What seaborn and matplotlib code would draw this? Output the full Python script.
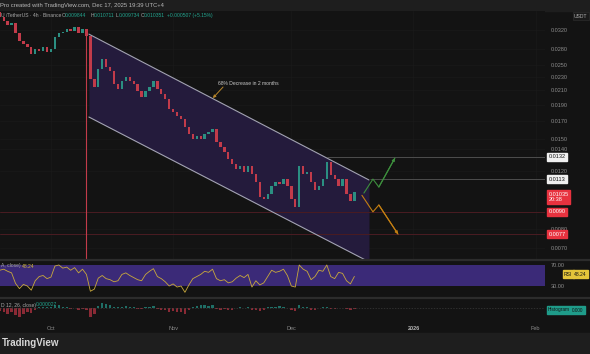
import numpy as np
import pandas as pd
import matplotlib
matplotlib.use("Agg")
import matplotlib.pyplot as plt
from matplotlib.patches import Rectangle
from matplotlib.lines import Line2D
from matplotlib.ticker import NullLocator, FixedLocator
import matplotlib.transforms as mtransforms
import seaborn as sns

# daily closes, 4h chart of ?/TetherUS (Binance), Sep 18 -> Dec 17 2025
start = "2025-09-18"
first_open = 0.0362
closes = [0.0350, 0.0341, 0.0331, 0.0336, 0.0313, 0.0296, 0.0290, 0.0284, 0.0271, 0.0280,
          0.0276, 0.0284, 0.0274, 0.0280, 0.0305, 0.0313, 0.0316, 0.0322, 0.0318, 0.0327,
          0.0313, 0.0322, 0.0307, 0.0227, 0.0215, 0.0244, 0.0261, 0.0247, 0.0240, 0.0220,
          0.0212, 0.0224, 0.0231, 0.0224, 0.0220, 0.0209, 0.0201, 0.0209, 0.0215, 0.0224,
          0.0212, 0.0205, 0.0198, 0.0184, 0.0181, 0.0176, 0.0172, 0.0163, 0.0155, 0.0150,
          0.0153, 0.0150, 0.0155, 0.0157, 0.0160, 0.0146, 0.0141, 0.0137, 0.0130, 0.0126,
          0.0121, 0.0124, 0.0119, 0.0124, 0.0117, 0.0111, 0.0100, 0.00984, 0.0102, 0.0108,
          0.0111, 0.0109, 0.0113, 0.0108, 0.00984, 0.0093, 0.0124, 0.0117, 0.0119, 0.0111,
          0.0105, 0.0108, 0.0113, 0.0127, 0.0116, 0.0113, 0.0108, 0.0113, 0.0102, 0.0097,
          0.010351]
crash_day = "2025-10-10"
crash_low = 0.0050

rsi = [60, 62, 58, 55, 35, 25, 33, 30, 22, 40, 48, 50, 44, 47, 68, 70, 64, 66, 60, 65,
       55, 62, 52, 20, 24, 45, 50, 44, 42, 38, 40, 52, 55, 50, 46, 42, 40, 52, 58, 63,
       48, 44, 38, 30, 34, 28, 30, 18, 32, 44, 48, 52, 58, 56, 62, 44, 40, 42, 36, 38,
       45, 50, 46, 52, 28, 40, 32, 36, 48, 60, 56, 58, 62, 50, 30, 28, 70, 62, 58, 42,
       48, 60, 58, 70, 48, 44, 56, 54, 40, 34, 48.24]

# MACD histogram, x1e-5
macd_hist = [-1.0, -1.5, -2.0, -1.2, -2.5, -3.0, -2.2, -1.5, -1.8, -0.5, 0.4, 0.6, 0.3, 0.5,
             1.2, 1.0, 0.6, 0.3, -0.3, 0.2, -0.5, -0.4, -0.8, -3.0, -2.0, 0.8, 2.0, 1.6, 1.0,
             0.4, 0.3, 0.6, 0.8, 0.5, 0.3, -0.3, -0.4, 0.3, 0.6, 0.8, -0.2, -0.5, -0.8, -1.2,
             -1.0, -1.5, -1.2, -2.0, -0.8, 0.4, 0.8, 1.0, 1.2, 0.9, 1.1, -0.3, -0.6, -0.4,
             -0.7, -0.5, 0.2, 0.4, 0.2, 0.3, -0.8, -0.5, -0.9, -0.6, 0.3, 0.6, 0.5, 0.7, 0.6,
             0.2, -0.7, -0.9, 1.0, 0.6, 0.3, -0.5, -0.6, 0.2, 0.3, 0.5, -0.2, -0.3, 0.1, 0.1,
             -0.4, -0.5, -0.3]

# drawings
channel_days = ["2025-10-10 15:00", "2025-12-20 17:00"]
channel_upper = [0.0311, 0.01124]
channel_lower = [0.01744, 0.00635]
note_text = "68% Decrease in 2 months"
note_pos = ("2025-11-12 10:00", 0.0221)
note_tail = ("2025-11-13 16:00", 0.0215)
note_head = ("2025-11-11 02:00", 0.0199)
bull_days = ["2025-12-19 10:00", "2025-12-21 17:00", "2025-12-23 05:00", "2025-12-27 07:00"]
bull_prices = [0.01026, 0.01131, 0.0107, 0.0131]
bear_days = ["2025-12-18 22:00", "2025-12-21 17:00", "2025-12-23 05:00", "2025-12-28 02:00"]
bear_prices = [0.0101, 0.0090, 0.00944, 0.0077]
gray_levels = [0.0132, 0.0113]
gray_starts = ["2025-12-10", "2025-12-21"]
red_levels = [0.0090, 0.0077]

price_ticks = [0.032, 0.028, 0.025, 0.023, 0.021, 0.019, 0.017, 0.015, 0.014,
               0.012, 0.008, 0.007]
month_ticks = ["2025-10-01", "2025-11-01", "2025-12-01", "2026-01-01", "2026-02-01"]
month_labels = ["Oct", "Nov", "Dec", "2026", "Feb"]

BG = "#131313"
BAR = "#1e1e1e"
TXT = "#8c8c8c"
UP = "#2b8f82"
DN = "#c23b4a"

sns.set_theme(style="dark", rc={"axes.facecolor": BG, "figure.facecolor": BG,
                                "axes.edgecolor": BG, "grid.color": "#1b1b1b"})
plt.rcParams["font.family"] = ["Liberation Sans", "DejaVu Sans"]

W, H = 590, 354
fig = plt.figure(figsize=(W / 100, H / 100), dpi=100)


def box(x0, y0, x1, y1):
    return [x0 / W, 1 - y1 / H, (x1 - x0) / W, (y1 - y0) / H]


ax = fig.add_axes(box(0, 11, 545, 259))
ax_rsi = fig.add_axes(box(0, 261, 545, 297), sharex=ax)
ax_macd = fig.add_axes(box(0, 299, 545, 320), sharex=ax)

dates = pd.date_range(start, periods=len(closes), freq="D")
opens = [first_open] + closes[:-1]
df = pd.DataFrame({"date": dates, "open": opens, "close": closes,
                   "rsi": rsi, "hist": macd_hist})
df["up"] = df["close"] >= df["open"]

# ---- price pane
ax.set_yscale("log")
ax.set_ylim(0.006477, 0.03654)
ax.set_xlim(pd.Timestamp("2025-09-18 01:30"), pd.Timestamp("2026-02-03 09:00"))

ax.fill_between(pd.to_datetime(channel_days), channel_lower, channel_upper,
                color="#241b3c", lw=0, zorder=1)
ax.plot(pd.to_datetime(channel_days), channel_upper, color="#a3a3b3", lw=0.8, zorder=4)
ax.plot(pd.to_datetime(channel_days), channel_lower, color="#a3a3b3", lw=0.8, zorder=4)

for lvl, st in zip(gray_levels, gray_starts):
    ax.hlines(lvl, pd.Timestamp(st), pd.Timestamp("2026-02-10"), color="#4d4d4d", lw=0.7, zorder=2)
for lvl in red_levels:
    ax.axhline(lvl, color="#4a1c22", lw=0.7, zorder=2)

ax.vlines(pd.Timestamp(crash_day), crash_low, opens[dates.get_loc(pd.Timestamp(crash_day))],
          color=DN, lw=0.8, zorder=3)
ax.bar(df["date"], df["close"] - df["open"], bottom=df["open"], width=0.6,
       color=np.where(df["up"], UP, DN), lw=0, zorder=3)

ax.plot(pd.to_datetime(bull_days), bull_prices, color="#3d8f3d", lw=0.8, zorder=5)
ax.annotate("", xy=(pd.Timestamp(bull_days[-1]), bull_prices[-1]),
            xytext=(pd.Timestamp(bull_days[-2]), bull_prices[-2]),
            arrowprops=dict(arrowstyle="-|>", color="#3d8f3d", lw=0.8,
                            mutation_scale=4, shrinkA=0, shrinkB=0), zorder=5)
ax.plot(pd.to_datetime(bear_days), bear_prices, color="#c47f12", lw=0.8, zorder=5)
ax.annotate("", xy=(pd.Timestamp(bear_days[-1]), bear_prices[-1]),
            xytext=(pd.Timestamp(bear_days[-2]), bear_prices[-2]),
            arrowprops=dict(arrowstyle="-|>", color="#c47f12", lw=0.8,
                            mutation_scale=4, shrinkA=0, shrinkB=0), zorder=5)

ax.text(pd.Timestamp(note_pos[0]), note_pos[1], note_text, color="#c8c8c8",
        fontsize=3.6, va="center", ha="left", zorder=6)
ax.annotate("", xy=(pd.Timestamp(note_head[0]), note_head[1]),
            xytext=(pd.Timestamp(note_tail[0]), note_tail[1]),
            arrowprops=dict(arrowstyle="-|>", color="#b8862b", lw=0.7,
                            mutation_scale=4, shrinkA=0, shrinkB=0), zorder=6)

ax.yaxis.tick_right()
ax.yaxis.set_major_locator(FixedLocator(price_ticks))
ax.yaxis.set_minor_locator(NullLocator())
ax.set_yticklabels([f"{t:.4f}" for t in price_ticks])
ax.tick_params(axis="y", labelsize=4, colors=TXT, length=0, pad=4)
ax.tick_params(axis="x", labelbottom=False, length=0)
ax.grid(True, color="#1a1a1a", lw=0.5)

# right-side price boxes
tr = mtransforms.blended_transform_factory(ax.transAxes, ax.transData)
for lvl in gray_levels:
    ax.text(1.006, lvl, f"{lvl:.4f}", transform=tr, fontsize=4, color="#131313",
            va="center", ha="left", clip_on=False, zorder=10,
            bbox=dict(boxstyle="square,pad=0.3", fc="#f0f0f0", ec="#f0f0f0"))
ax.text(1.006, closes[-1], f"{closes[-1]:.5f}\n20:38", transform=tr, fontsize=4,
        color="white", va="top", ha="left", clip_on=False, zorder=10, linespacing=1.1,
        bbox=dict(boxstyle="square,pad=0.3", fc="#e8323f", ec="#e8323f"))
for lvl in red_levels:
    ax.text(1.006, lvl, f"{lvl:.4f}", transform=tr, fontsize=4, color="white",
            va="center", ha="left", clip_on=False, zorder=10,
            bbox=dict(boxstyle="square,pad=0.3", fc="#e8323f", ec="#e8323f"))

# ---- RSI pane
ax_rsi.axhspan(30, 70, color="#3b2a78", lw=0)
sns.lineplot(data=df, x="date", y="rsi", ax=ax_rsi, color="#c9a93c", lw=0.6)
ax_rsi.set_ylim(9.05, 77.6)
ax_rsi.yaxis.tick_right()
ax_rsi.set_yticks([70, 30])
ax_rsi.set_yticklabels(["70.00", "30.00"])
ax_rsi.tick_params(axis="y", labelsize=4, colors=TXT, length=0, pad=4)
ax_rsi.tick_params(axis="x", labelbottom=False, length=0)
ax_rsi.set_xlabel("")
ax_rsi.set_ylabel("")
ax_rsi.grid(False)

# ---- MACD pane
ax_macd.axhline(0, color="#3a3a3a", lw=0.5, ls=(0, (2, 2)))
ax_macd.bar(df["date"], df["hist"], width=0.6,
            color=np.where(df["hist"] >= 0, "#1f6f66", "#8a2a35"), lw=0)
ax_macd.set_ylim(-4.2, 3.3)
ax_macd.set_yticks([])
ax_macd.set_xticks(pd.to_datetime(month_ticks))
ax_macd.set_xticklabels(month_labels)
ax_macd.tick_params(axis="x", labelsize=4, colors=TXT, length=0, pad=4)
ax_macd.get_xticklabels()[3].set_fontweight("bold")
ax_macd.get_xticklabels()[3].set_color("#b5b5b5")
ax_macd.grid(False)

for a in (ax, ax_rsi, ax_macd):
    for s in a.spines.values():
        s.set_visible(False)

# ---- frame: header, separators, footer
fig.add_artist(Rectangle((0, 1 - 11 / H), 1, 11 / H, transform=fig.transFigure,
                         color=BAR, zorder=0))
fig.add_artist(Rectangle((0, 0), 1, 21 / H, transform=fig.transFigure,
                         color=BAR, zorder=0))
for yy in (260, 298):
    fig.add_artist(Line2D([0, 1], [1 - yy / H] * 2, transform=fig.transFigure,
                          color="#2c2c2c", lw=1.6))

fig.text(0, 1 - 5.5 / H, "Pro created with TradingView.com, Dec 17, 2025 19:39 UTC+4",
         fontsize=4.2, color="#b8b8b8", va="center", ha="left")
fig.text(2 / W, 1 - 343 / H, "TradingView", fontsize=7, fontweight="bold",
         color="#d6d6d6", va="center", ha="left")

row = 1 - 15.5 / H
fig.text(1 / W, row, "U /TetherUS · 4h · Binance", fontsize=3.6, color="#a8a8a8",
         va="center", ha="left")
ohlc = [("O", "0.009844", 62), ("H", "0.010711", 91), ("L", "0.009734", 116),
        ("C", "0.010351", 141)]
for k, v, px in ohlc:
    fig.text(px / W, row, k, fontsize=3.6, color="#a8a8a8", va="center", ha="left")
    fig.text((px + 3) / W, row, v, fontsize=3.6, color="#22a58f", va="center", ha="left")
fig.text(167 / W, row, "+0.000507 (+5.15%)", fontsize=3.6, color="#22a58f",
         va="center", ha="left")

fig.text(574 / W, 1 - 16 / H, "USDT", fontsize=3.6, color="#b0b0b0", va="center",
         ha="left", bbox=dict(boxstyle="square,pad=0.3", fc="#1a1a1a", ec="#2c2c2c", lw=0.5))

fig.text(1 / W, 1 - 266 / H, "A, close)", fontsize=3.6, color="#a8a8a8", va="center")
fig.text(22 / W, 1 - 266 / H, "48.24", fontsize=3.6, color="#d4b93a", va="center")
fig.text(564 / W, 1 - 274 / H, "RSI", fontsize=3.6, color="#131313", va="center",
         bbox=dict(boxstyle="square,pad=0.3", fc="#e3c53a", ec="#e3c53a"))
fig.text(574 / W, 1 - 274 / H, "48.24", fontsize=3.6, color="#131313", va="center",
         bbox=dict(boxstyle="square,pad=0.3", fc="#e3c53a", ec="#e3c53a"))

fig.text(1 / W, 1 - 305 / H, "D 12, 26, close)", fontsize=3.6, color="#a8a8a8", va="center")
fig.text(36 / W, 1 - 305 / H, "0.000027", fontsize=3.6, color="#22a58f", va="center")
fig.text(548 / W, 1 - 310 / H, "Histogram", fontsize=3.4, color="#131313", va="center",
         bbox=dict(boxstyle="square,pad=0.3", fc="#1f9c8a", ec="#1f9c8a"))
fig.text(572 / W, 1 - 310 / H, "0.000", fontsize=3.4, color="#131313", va="center",
         bbox=dict(boxstyle="square,pad=0.3", fc="#1f9c8a", ec="#1f9c8a"))

fig.savefig("out.png", dpi=100, facecolor=BG)
